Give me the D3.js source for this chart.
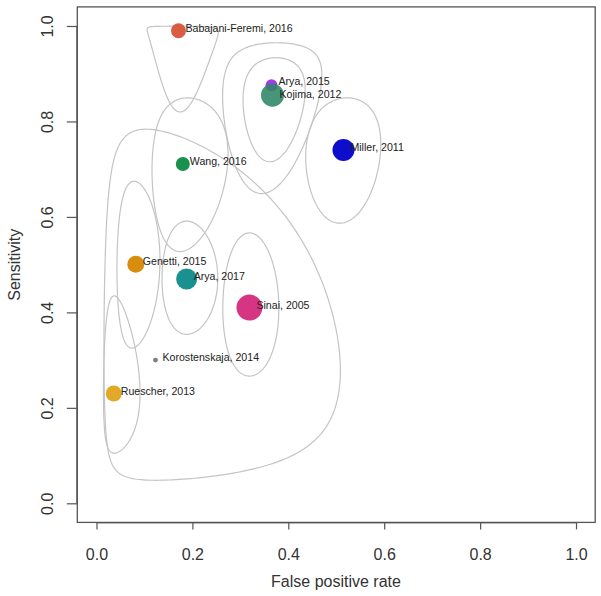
<!DOCTYPE html>
<html>
<head>
<meta charset="utf-8">
<script src="https://cdn.jsdelivr.net/npm/d3@7"></script>
<style>
  html, body { margin: 0; padding: 0; background: #fff; }
  svg { display: block; font-family: "Liberation Sans", Arial, sans-serif; }
</style>
</head>
<body>
<svg id="chart" width="601" height="596"></svg>
<script>
// ---- Data ----
const studies = ["Babajani-Feremi, 2016", "Arya, 2015", "Kojima, 2012", "Miller, 2011", "Wang, 2016",
                 "Genetti, 2015", "Arya, 2017", "Sinai, 2005", "Korostenskaja, 2014", "Ruescher, 2013"];
const fpr  = [0.171, 0.365, 0.367, 0.515, 0.180, 0.082, 0.188, 0.319, 0.123, 0.036];
const sens = [0.990, 0.876, 0.855, 0.740, 0.711, 0.501, 0.470, 0.410, 0.300, 0.230];
const weight = [56, 36, 132, 121, 49, 72, 110, 169, 6, 64];
const colors = ["#d9533b", "#9b30e8", "#2f8566", "#0000c8", "#0b8c45",
                "#d58700", "#0f8a8a", "#d42a7c", "#777777", "#e0a41e"];

// confidence regions (ellipses in logit space): centre (fpr, sens), half-axes in logit units, correlation
const regCenterFpr  = [0.167, 0.360, 0.368, 0.515, 0.182, 0.0762, 0.188, 0.319, 0.1135, 0.037];
const regCenterSens = [0.990, 0.877, 0.856, 0.739, 0.715, 0.500, 0.471, 0.408, 0.300, 0.231];
const regHalfX      = [0.53, 0.455, 0.28, 0.316, 0.53, 0.615, 0.38, 0.27, 2.09, 0.955];
const regHalfY      = [3.08, 1.35, 0.86, 0.69, 0.81, 0.73, 0.485, 0.64, 2.135, 0.94];
const regRho        = [-0.1, 0.15, 0.1, 0.1, 0.1, 0.05, 0.0, 0.0, -0.05, 0.0];

const xTicks = [0, 0.2, 0.4, 0.6, 0.8, 1.0];
const yTicks = [0, 0.2, 0.4, 0.6, 0.8, 1.0];
const xTitle = "False positive rate";
const yTitle = "Sensitivity";

// ---- Layout ----
const svg = d3.select("#chart");
const x = d3.scaleLinear().domain([-0.04, 1.04]).range([77.3, 595.2]);
const y = d3.scaleLinear().domain([-0.04, 1.04]).range([522.4, 6.9]);
const r = d3.scaleSqrt().domain([0, 169]).range([0, 13]);

const logit = p => Math.log(p / (1 - p));
const expit = v => 1 / (1 + Math.exp(-v));

// contours
const line = d3.line().x(d => x(d[0])).y(d => y(d[1])).curve(d3.curveLinearClosed);
const N = 240;
studies.forEach((s, i) => {
  const cx = logit(regCenterFpr[i]), cy = logit(regCenterSens[i]);
  const a = regHalfX[i], b = regHalfY[i], rho = regRho[i];
  const pts = d3.range(N).map(k => {
    const t = 2 * Math.PI * k / N;
    const lx = cx + a * Math.cos(t);
    const ly = cy + b * (rho * Math.cos(t) + Math.sqrt(1 - rho * rho) * Math.sin(t));
    return [expit(lx), expit(ly)];
  });
  svg.append("path").attr("d", line(pts))
    .attr("fill", "none").attr("stroke", "#c4c4c4").attr("stroke-width", 1.2);
});

// points
studies.forEach((s, i) => {
  svg.append("circle")
    .attr("cx", x(fpr[i])).attr("cy", y(sens[i])).attr("r", r(weight[i]))
    .attr("fill", colors[i]).attr("fill-opacity", i === 2 ? 0.88 : 0.95);
});

// labels, with a small vertical separation for labels that would collide
const fs = 10.6;
const lab = studies.map((s, i) => ({ s, x: x(fpr[i]) + 7, y: y(sens[i]) + 1 }));
const byY = lab.slice().sort((p, q) => p.y - q.y);
for (let k = 1; k < byY.length; k++) {
  const p = byY[k - 1], q = byY[k];
  const gap = q.y - p.y, need = fs * 1.2;
  if (gap < need && Math.abs(q.x - p.x) < 80) {
    const d = (need - gap) / 2;
    p.y -= d; q.y += d;
  }
}
lab.forEach(l => {
  svg.append("text").attr("x", l.x).attr("y", l.y)
    .attr("font-size", fs).attr("fill", "#222").text(l.s);
});

// box
svg.append("rect").attr("x", 77.3).attr("y", 6.9).attr("width", 595.2 - 77.3).attr("height", 522.4 - 6.9)
  .attr("fill", "none").attr("stroke", "#555").attr("stroke-width", 1.3);

// x axis
const xAxis = d3.axisBottom(x).tickValues(xTicks).tickSize(7).tickPadding(0).tickFormat(d3.format(".1f"));
const gx = svg.append("g").attr("transform", "translate(0,522.4)").call(xAxis);
gx.select(".domain").attr("d", `M${x(0)},0.5H${x(1)}`).attr("stroke", "#555");
gx.selectAll(".tick line").attr("stroke", "#555").attr("stroke-width", 1.2);
gx.selectAll(".tick text").attr("font-size", 16).attr("fill", "#333")
  .attr("font-family", "Liberation Sans, Arial, sans-serif").attr("dy", null).attr("y", 37.5);

// y axis
const yAxis = d3.axisLeft(y).tickValues(yTicks).tickSize(10.5).tickPadding(0).tickFormat(d3.format(".1f"));
const gy = svg.append("g").attr("transform", "translate(77.3,0)").call(yAxis);
gy.select(".domain").attr("d", `M-0.5,${y(0)}V${y(1)}`).attr("stroke", "#555");
gy.selectAll(".tick line").attr("stroke", "#555").attr("stroke-width", 1.2);
gy.selectAll(".tick text").attr("font-size", 16).attr("fill", "#333")
  .attr("font-family", "Liberation Sans, Arial, sans-serif")
  .attr("x", null).attr("dy", null).attr("text-anchor", "middle")
  .attr("transform", "translate(-24,0) rotate(-90)");

// titles
svg.append("text").attr("x", 336).attr("y", 586.5).attr("text-anchor", "middle")
  .attr("font-size", 16).attr("fill", "#333").text(xTitle);
svg.append("text").attr("transform", "translate(19.5,264.7) rotate(-90)").attr("text-anchor", "middle")
  .attr("font-size", 16).attr("fill", "#333").text(yTitle);
</script>
</body>
</html>
